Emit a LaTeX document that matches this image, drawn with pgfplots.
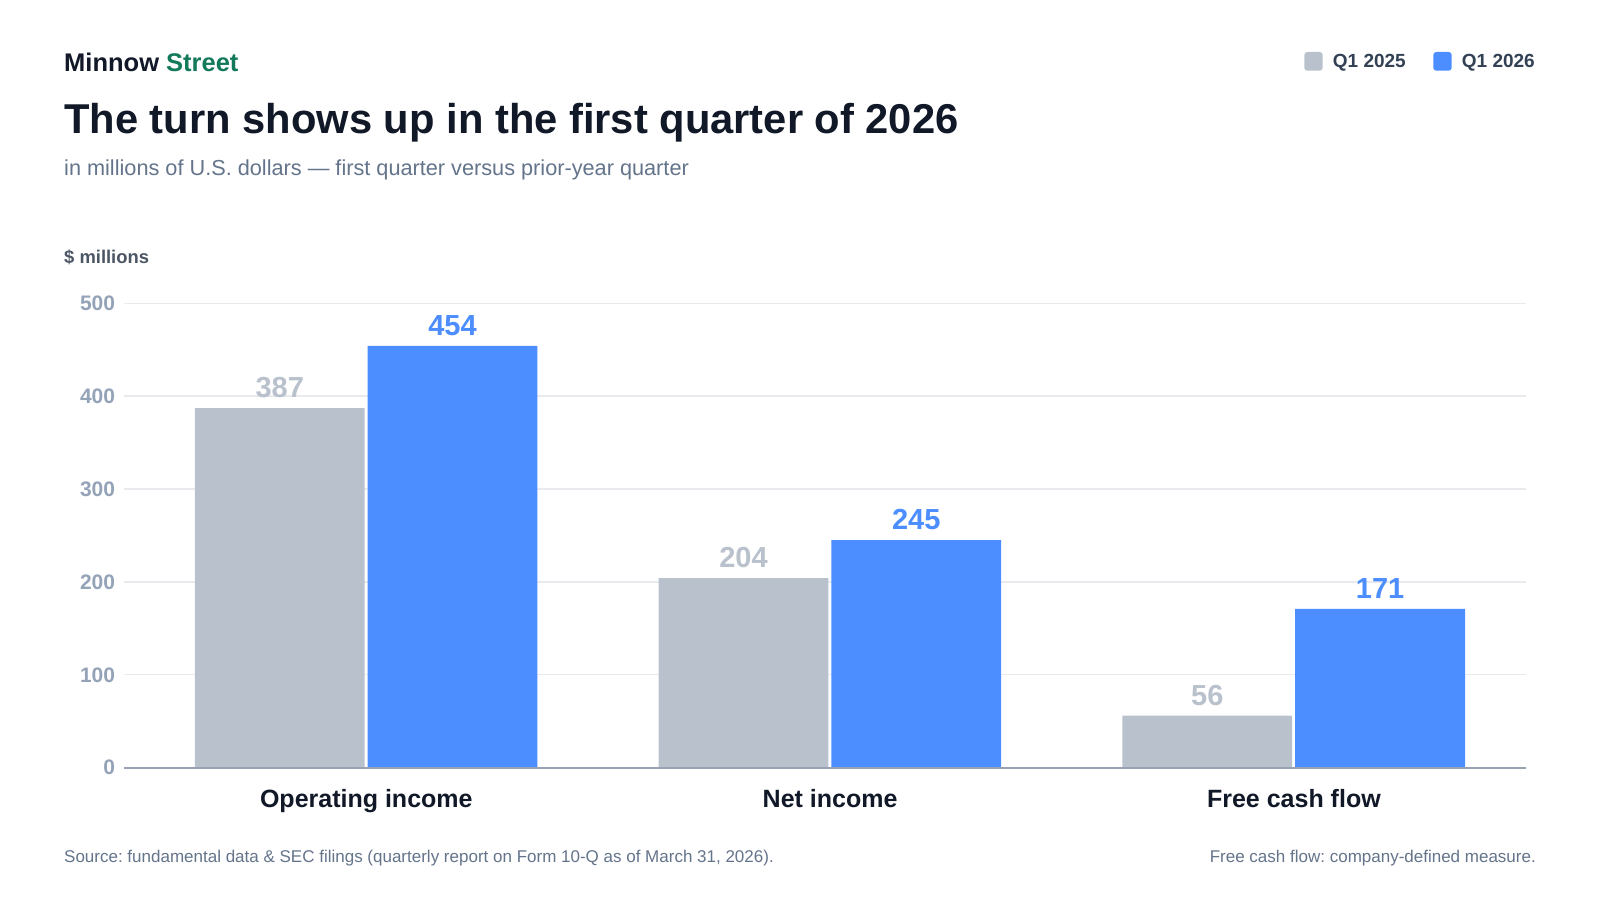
\documentclass[border=0pt]{standalone}
\usepackage{pgfplots}
\pgfplotsset{compat=1.18}
\usepackage{fontspec}
\setmainfont{Liberation Sans}
\frenchspacing
\definecolor{ink}{HTML}{111827}
\definecolor{brandgreen}{HTML}{127A5B}
\definecolor{subgray}{HTML}{64748B}
\definecolor{unitgray}{HTML}{4B5563}
\definecolor{tickgray}{HTML}{94A3B8}
\definecolor{gridc}{HTML}{E8EAEE}
\definecolor{axisc}{HTML}{98A2B3}
\definecolor{bargray}{HTML}{B9C2CC}
\definecolor{valgray}{HTML}{B9C2CC}
\definecolor{barblue}{HTML}{4C8DFF}
\definecolor{legtext}{HTML}{334155}
\newcommand{\fs}[1]{\fontsize{#1pt}{#1pt}\selectfont}
\begin{document}
\begin{tikzpicture}[x=1pt,y=1pt]
\fill[white] (0,0) rectangle (1600,900);
\path[use as bounding box] (0,0) rectangle (1600,900);
% header
\node[anchor=base west, inner sep=0pt] at (64,828.5) {\fs{25.5}\bfseries\textcolor{ink}{Minnow} \textcolor{brandgreen}{Street}};
\node[anchor=base west, inner sep=0pt, text=ink] at (64,766.5) {\fs{41.7}\bfseries The turn shows up in the first quarter of 2026};
\node[anchor=base west, inner sep=0pt, text=subgray] at (64,724.5) {\fs{21.7}in millions of U.S. dollars — first quarter versus prior-year quarter};
\node[anchor=base west, inner sep=0pt, text=unitgray] at (64,636) {\fs{18.4}\bfseries \$ millions};
% legend
\fill[bargray, rounded corners=3pt] (1304.3,829.3) rectangle (1322.7,848);
\node[anchor=base west, inner sep=0pt, text=legtext] at (1332.7,832.3) {\fs{19}\bfseries Q1 2025};
\fill[barblue, rounded corners=3pt] (1433.3,829.3) rectangle (1451.7,848);
\node[anchor=base west, inner sep=0pt, text=legtext] at (1461.7,832.3) {\fs{19}\bfseries Q1 2026};
% footer
\node[anchor=base west, inner sep=0pt, text=subgray] at (64,37.3) {\fs{17}Source: fundamental data \& SEC filings (quarterly report on Form 10-Q as of March 31, 2026).};
\node[anchor=base east, inner sep=0pt, text=subgray] at (1536,37.3) {\fs{17}Free cash flow: company-defined measure.};
\begin{axis}[
  at={(124pt,132.3pt)}, anchor=south west,
  scale only axis, width=1402pt, height=464.5pt,
  xmin=-0.5224, xmax=2.5004, ymin=0, ymax=500,
  clip=false,
  axis line style={draw=none},
  major tick length=0pt,
  ytick={0,100,200,300,400,500},
  ymajorgrids, grid style={draw=gridc, line width=1.3pt},
  xtick={0,1,2},
  xticklabels={Operating income, Net income, Free cash flow},
  /pgf/number format/assume math mode=true,
  yticklabel style={font=\fs{21}\bfseries, text=tickgray, anchor=east, inner sep=0pt, xshift=-8.7pt},
  xticklabel style={font=\fs{25}\bfseries, text=ink, anchor=base, inner sep=0pt, yshift=-40pt},
]
\addplot[ybar, bar width=169.8pt, bar shift=-86.6pt, fill=bargray, draw=none,
  nodes near coords, nodes near coords style={font=\fs{29}\bfseries, text=valgray, anchor=south, inner sep=0pt, yshift=10pt, xshift=-86.6pt}]
  coordinates {(0,387) (1,204) (2,56)};
\addplot[ybar, bar width=169.8pt, bar shift=86.2pt, fill=barblue, draw=none,
  nodes near coords, nodes near coords style={font=\fs{29}\bfseries, text=barblue, anchor=south, inner sep=0pt, yshift=10pt, xshift=86.2pt}]
  coordinates {(0,454) (1,245) (2,171)};
\draw[axisc, line width=2pt] (rel axis cs:0,0) -- (rel axis cs:1,0);
\end{axis}
\end{tikzpicture}
\end{document}
